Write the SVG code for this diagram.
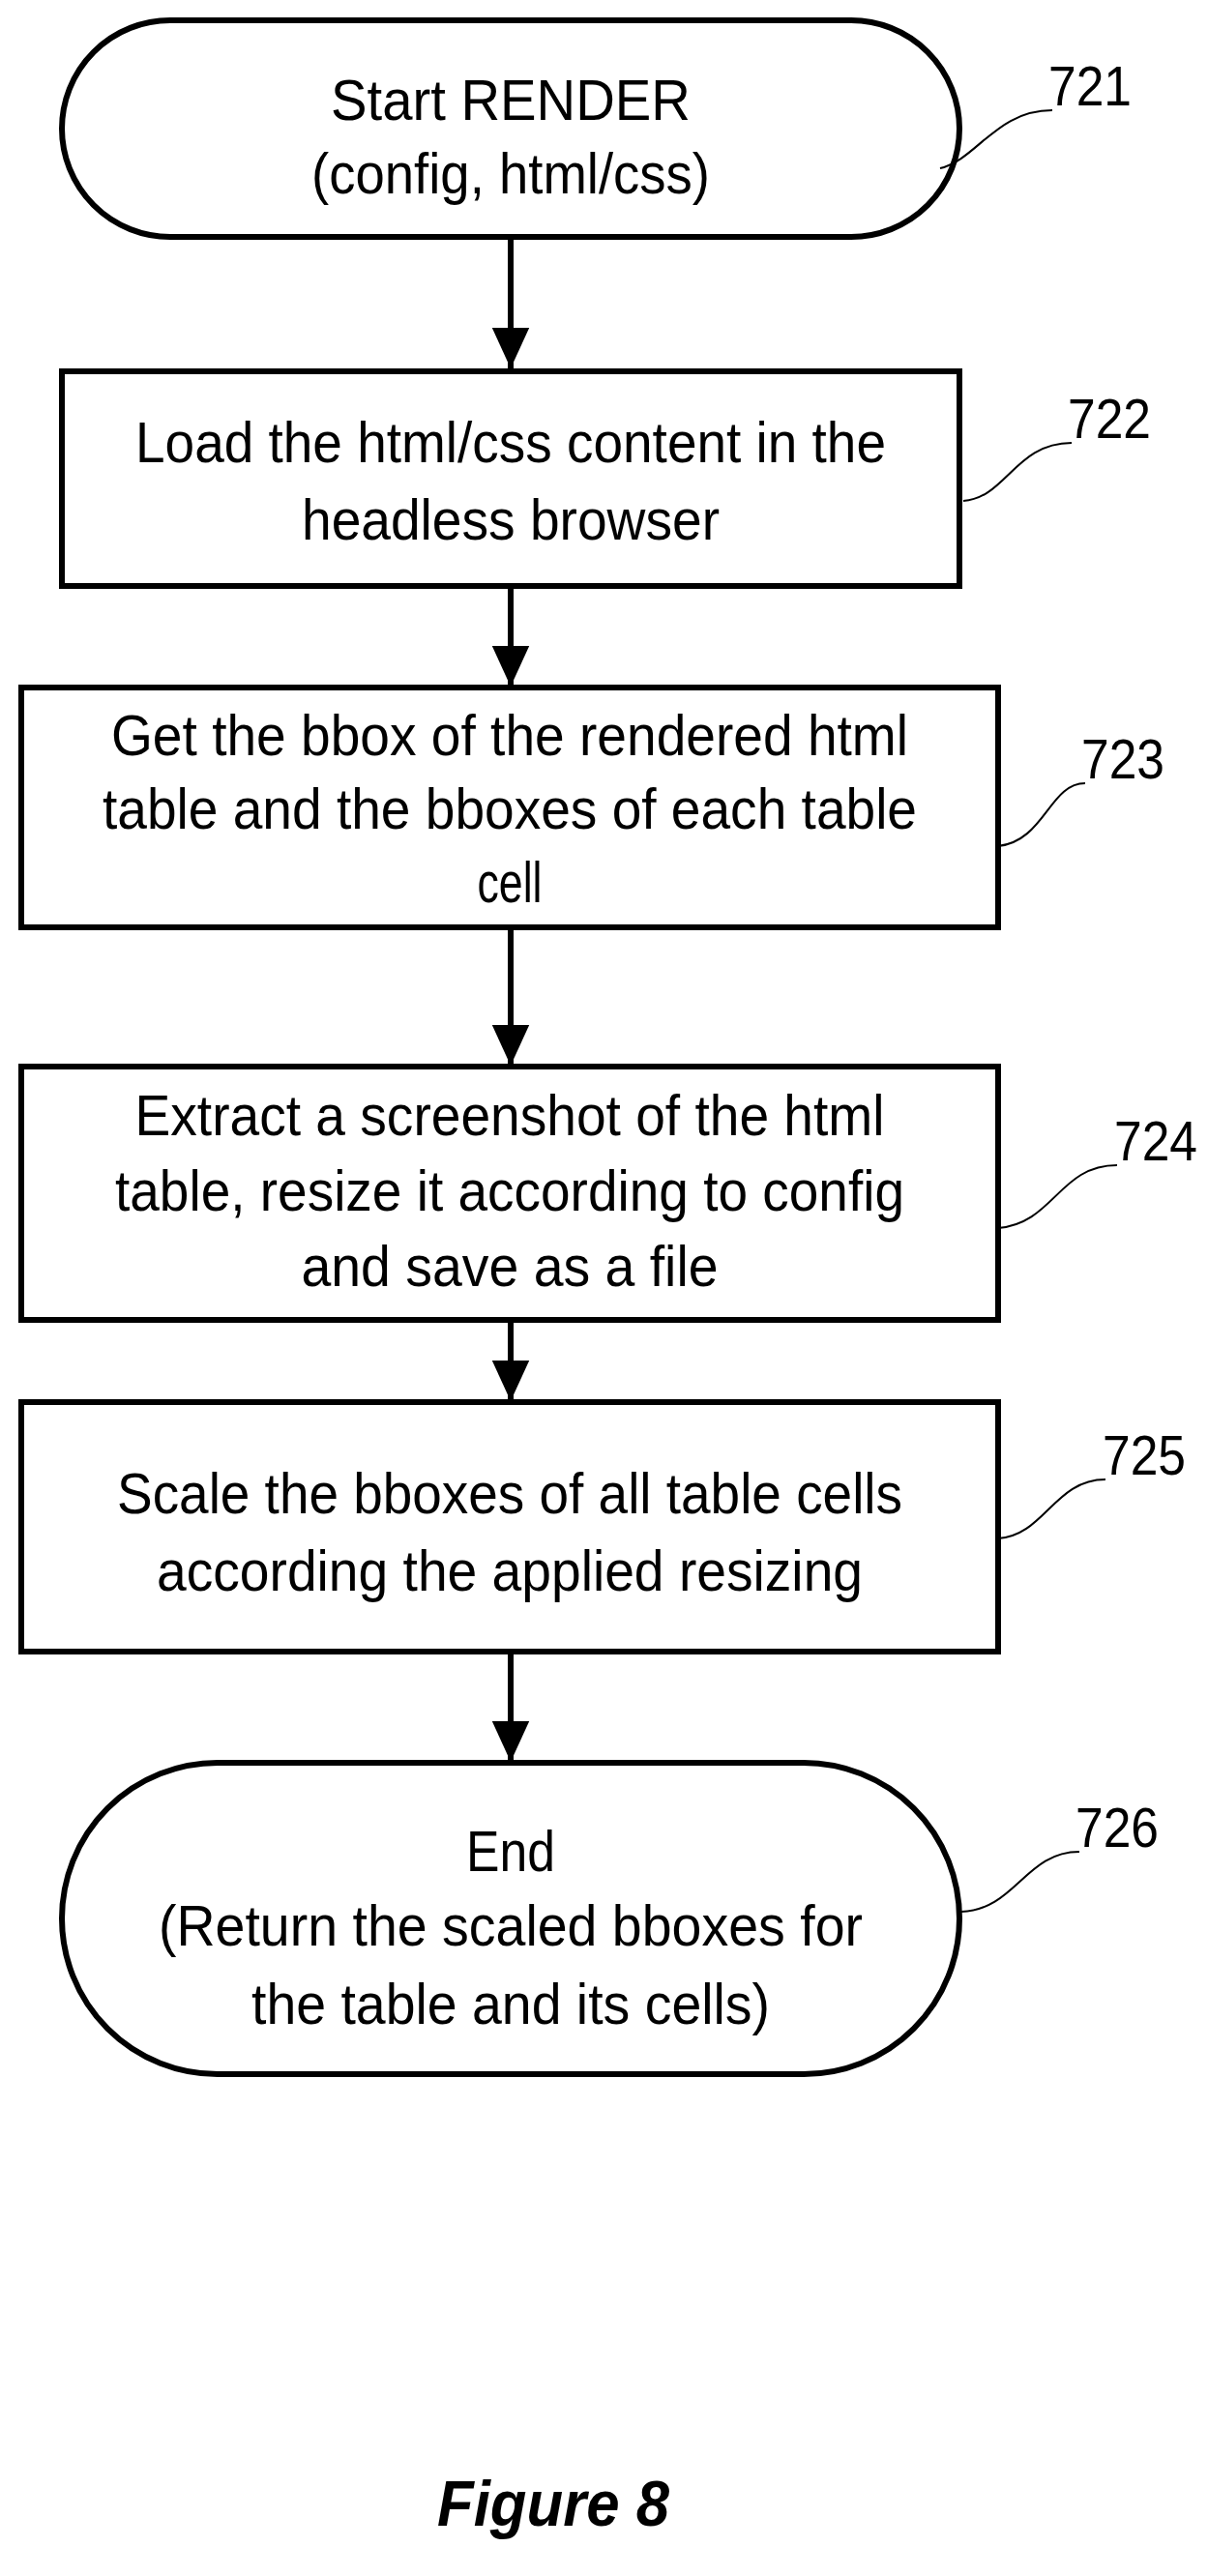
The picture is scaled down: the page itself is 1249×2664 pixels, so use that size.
<svg xmlns="http://www.w3.org/2000/svg" width="1249" height="2664" viewBox="0 0 1249 2664">
<style>
.s{fill:#fff;stroke:#000;stroke-width:6}
.t{font-family:"Liberation Sans",Arial,sans-serif;font-size:60px;text-anchor:middle;fill:#000}
.l{font-family:"Liberation Sans",Arial,sans-serif;font-size:58px;fill:#000}
.c{fill:none;stroke:#000;stroke-width:6}
.ld{fill:none;stroke:#000;stroke-width:2}
</style>
<defs><marker id="a" markerWidth="8" markerHeight="8" refX="7" refY="4" orient="auto" markerUnits="strokeWidth"><path d="M0,0.8 L7,4 L0,7.2 Z" fill="#000"/></marker></defs>
<g id="connectors">
<line class="c" x1="528" y1="245" x2="528" y2="381" marker-end="url(#a)"/>
<line class="c" x1="528" y1="606" x2="528" y2="710" marker-end="url(#a)"/>
<line class="c" x1="528" y1="959" x2="528" y2="1102" marker-end="url(#a)"/>
<line class="c" x1="528" y1="1365" x2="528" y2="1449" marker-end="url(#a)"/>
<line class="c" x1="528" y1="1708" x2="528" y2="1822" marker-end="url(#a)"/>
</g>
<g id="n721">
<rect class="s" x="64" y="21" width="928" height="224" rx="112"/>
<text class="t" x="528" y="124" textLength="372" lengthAdjust="spacingAndGlyphs">Start  RENDER</text>
<text class="t" x="528" y="200" textLength="412" lengthAdjust="spacingAndGlyphs">(config, html/css)</text>
<path class="ld" d="M972,174 C1010,165 1030,114 1088,114"/>
<text class="l" x="1084" y="109" textLength="86" lengthAdjust="spacingAndGlyphs">721</text>
</g>
<g id="n722">
<rect class="s" x="64" y="384" width="928" height="222"/>
<text class="t" x="528" y="478" textLength="776" lengthAdjust="spacingAndGlyphs">Load the html/css content in the</text>
<text class="t" x="528" y="558" textLength="432" lengthAdjust="spacingAndGlyphs">headless browser</text>
<path class="ld" d="M996,518 C1040,515 1050,458 1108,458"/>
<text class="l" x="1104" y="453" textLength="86" lengthAdjust="spacingAndGlyphs">722</text>
</g>
<g id="n723">
<rect class="s" x="22" y="711" width="1010" height="248"/>
<text class="t" x="527" y="781" textLength="824" lengthAdjust="spacingAndGlyphs">Get the bbox of the rendered html</text>
<text class="t" x="527" y="857" textLength="842" lengthAdjust="spacingAndGlyphs">table and the bboxes of each table</text>
<text class="t" x="527" y="933" textLength="67" lengthAdjust="spacingAndGlyphs">cell</text>
<path class="ld" d="M1032,875 C1080,870 1085,810 1122,810"/>
<text class="l" x="1118" y="805" textLength="86" lengthAdjust="spacingAndGlyphs">723</text>
</g>
<g id="n724">
<rect class="s" x="22" y="1103" width="1010" height="262"/>
<text class="t" x="527" y="1174" textLength="775" lengthAdjust="spacingAndGlyphs">Extract a screenshot of the html</text>
<text class="t" x="527" y="1252" textLength="816" lengthAdjust="spacingAndGlyphs">table, resize it according to config</text>
<text class="t" x="527" y="1330" textLength="431" lengthAdjust="spacingAndGlyphs">and save as a file</text>
<path class="ld" d="M1032,1270 C1090,1265 1095,1205 1155,1205"/>
<text class="l" x="1152" y="1200" textLength="86" lengthAdjust="spacingAndGlyphs">724</text>
</g>
<g id="n725">
<rect class="s" x="22" y="1450" width="1010" height="258"/>
<text class="t" x="527" y="1565" textLength="812" lengthAdjust="spacingAndGlyphs">Scale the bboxes of all table cells</text>
<text class="t" x="527" y="1645" textLength="730" lengthAdjust="spacingAndGlyphs">according the applied resizing</text>
<path class="ld" d="M1032,1591 C1080,1588 1090,1530 1143,1530"/>
<text class="l" x="1140" y="1525" textLength="86" lengthAdjust="spacingAndGlyphs">725</text>
</g>
<g id="n726">
<rect class="s" x="64" y="1823" width="928" height="322" rx="161"/>
<text class="t" x="528" y="1935" textLength="92" lengthAdjust="spacingAndGlyphs">End</text>
<text class="t" x="528" y="2012" textLength="728" lengthAdjust="spacingAndGlyphs">(Return the scaled bboxes for</text>
<text class="t" x="528" y="2093" textLength="536" lengthAdjust="spacingAndGlyphs">the table and its cells)</text>
<path class="ld" d="M994,1977 C1050,1975 1060,1915 1116,1915"/>
<text class="l" x="1112" y="1910" textLength="86" lengthAdjust="spacingAndGlyphs">726</text>
</g>
<text x="572" y="2612" font-family="'Liberation Sans',Arial,sans-serif" font-size="66" font-weight="bold" font-style="italic" text-anchor="middle" textLength="240" lengthAdjust="spacingAndGlyphs">Figure 8</text>
</svg>
